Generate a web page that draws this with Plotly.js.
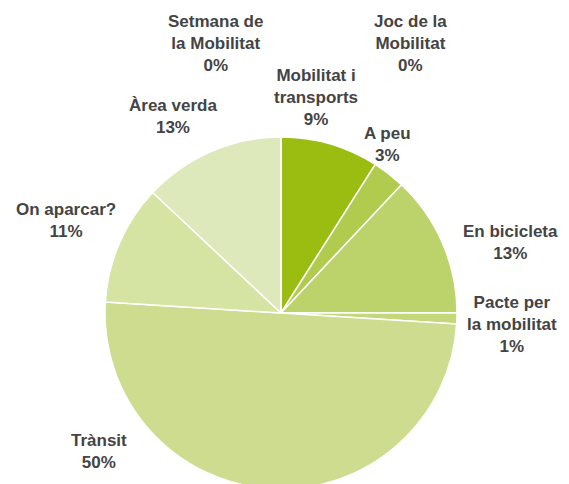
<!DOCTYPE html>
<html>
<head>
<meta charset="utf-8">
<script src="https://cdn.plot.ly/plotly-3.0.1.min.js"></script>
<style>
html,body{margin:0;padding:0;overflow:hidden;background:#fff;}
#chart{width:569px;height:492px;}
</style>
</head>
<body>
<div id="chart"></div>
<script>
// Data
var categories = ["Mobilitat i transports", "A peu", "En bicicleta", "Pacte per la mobilitat", "Trànsit", "On aparcar?", "Àrea verda", "Setmana de la Mobilitat", "Joc de la Mobilitat"];
var values = [9, 3, 13, 1, 50, 11, 13, 0, 0];
var labelLines = [
  ["Mobilitat i", "transports"],
  ["A peu"],
  ["En bicicleta"],
  ["Pacte per", "la mobilitat"],
  ["Trànsit"],
  ["On aparcar?"],
  ["Àrea verda"],
  ["Setmana de", "la Mobilitat"],
  ["Joc de la", "Mobilitat"]
];
var colors = ["#9bbd12", "#b0cb4e", "#bcd26b", "#c4d77b", "#cddc8f", "#d5e3a3", "#dee9bb", "#e4edc8", "#e8f0d0"];

// Label anchor positions (pixels, center of text block)
var labelPos = [
  [316, 97], [387, 144], [510, 242], [512, 324], [99, 451], [66, 220], [173, 116], [215, 43], [410, 43]
];

var W = 569, H = 492;
var cx = 281, cy = 313, r = 176;

var total = values.reduce(function(a, b){ return a + b; }, 0);
var annotations = categories.map(function(c, i){
  var pct = Math.round(values[i] / total * 100) + "%";
  return {
    xref: "paper", yref: "paper",
    x: labelPos[i][0] / W, y: 1 - labelPos[i][1] / H,
    xanchor: "center", yanchor: "middle",
    text: labelLines[i].concat([pct]).join("<br>"),
    showarrow: false,
    align: "center",
    font: {family: "Liberation Sans, Arial, sans-serif", size: 17, color: "#444444", weight: "bold"}
  };
});

var trace = {
  type: "pie",
  labels: categories,
  values: values,
  sort: false,
  direction: "clockwise",
  rotation: 0,
  textinfo: "none",
  hoverinfo: "label+percent",
  marker: {colors: colors, line: {color: "#ffffff", width: 1.5}},
  domain: {x: [(cx - r) / W, (cx + r) / W], y: [(H - cy - r) / H, (H - cy + r) / H]},
  showlegend: false
};

var layout = {
  width: W, height: H,
  margin: {l: 0, r: 0, t: 0, b: 0},
  paper_bgcolor: "#ffffff",
  plot_bgcolor: "#ffffff",
  showlegend: false,
  annotations: annotations
};

Plotly.newPlot("chart", [trace], layout, {displayModeBar: false, staticPlot: true});
</script>
</body>
</html>
